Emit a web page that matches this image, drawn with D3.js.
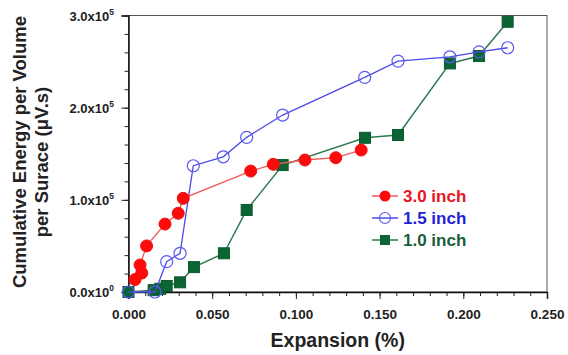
<html>
<script src='https://d3js.org/d3.v7.min.js'></script>
<style>
    body { margin: 0; background: #fff; }
    text { font-family: 'Liberation Sans', Arial, sans-serif; font-weight: bold; }
</style>

<body onload='init()'>
    <svg width=568 height=355></svg>
    <script>
        // data (expansion %, energy in uV.s)
        const x30 = [0.0039, 0.0079, 0.0069, 0.0108, 0.0218, 0.0297, 0.0327, 0.0730, 0.0865, 0.1054, 0.1238, 0.1390];
        const y30 = [13500, 20500, 29300, 50000, 73700, 85400, 101600, 131200, 138500, 143200, 145700, 154000];
        const x15 = [0.0000, 0.0158, 0.0228, 0.0308, 0.0387, 0.0566, 0.0706, 0.0921, 0.1411, 0.1610, 0.1920, 0.2094, 0.2265];
        const y15 = [0, 0, 32900, 42000, 137000, 146700, 167800, 192000, 232900, 250500, 255200, 260600, 265000];
        const x10 = [0.0000, 0.0150, 0.0190, 0.0228, 0.0308, 0.0391, 0.0570, 0.0706, 0.0921, 0.1413, 0.1610, 0.1920, 0.2094, 0.2265];
        const y10 = [0, 2000, 3500, 6500, 10500, 27000, 42000, 89000, 137700, 167300, 170300, 248000, 256000, 293200];
        const seriesNames = ['3.0 inch', '1.5 inch', '1.0 inch'];
        const xTicks = [0, 0.05, 0.1, 0.15, 0.2, 0.25];
        const yTicks = [0, 100000, 200000, 300000];
        const yTickLabels = ['0.0x10', '1.0x10', '2.0x10', '3.0x10'];
        const yTickExps = ['0', '5', '5', '5'];

        function init() {
            const svg = d3.select('svg');
            const left = 128.5, top = 15.5, right = 547, bottom = 292;
            const x = d3.scaleLinear().domain([0, 0.25]).range([left, right]);
            const y = d3.scaleLinear().domain([0, 300000]).range([bottom, top]);

            // frame
            svg.append('rect')
                .attr('x', left).attr('y', top)
                .attr('width', right - left).attr('height', bottom - top)
                .attr('fill', 'none').attr('stroke', '#555').attr('stroke-width', 1);

            // minor ticks
            svg.append('g')
                .attr('transform', 'translate(0,' + bottom + ')')
                .call(d3.axisBottom(x).tickValues(d3.range(0, 0.2501, 0.01)).tickSize(4).tickFormat(''))
                .call(g => g.select('.domain').remove());
            svg.append('g')
                .attr('transform', 'translate(' + left + ',0)')
                .call(d3.axisLeft(y).tickValues(d3.range(0, 300001, 20000)).tickSize(4).tickFormat(''))
                .call(g => g.select('.domain').remove());

            // major axes
            const xa = svg.append('g')
                .attr('transform', 'translate(0,' + bottom + ')')
                .call(d3.axisBottom(x).tickValues(xTicks).tickSize(7).tickPadding(10).tickFormat(d3.format('.3f')));
            xa.selectAll('text').attr('font-size', 13.5).attr('fill', '#222')
                .style('font-family', "'Liberation Sans', Arial, sans-serif").style('font-weight', 'bold');
            svg.append('g')
                .attr('transform', 'translate(' + left + ',0)')
                .call(d3.axisLeft(y).tickValues(yTicks).tickSize(7).tickPadding(4).tickFormat(''));
            svg.selectAll('.domain').attr('stroke-width', 1.5).attr('stroke', '#111');
            svg.selectAll('.tick line').attr('stroke', '#222');

            // y tick labels with superscript
            const yl = svg.append('g').selectAll('text').data(yTicks).enter().append('text')
                .attr('x', 114).attr('y', d => y(d) + 5)
                .attr('text-anchor', 'end').attr('font-size', 13).attr('fill', '#222');
            yl.append('tspan').text((d, i) => yTickLabels[i]);
            yl.append('tspan').attr('dy', -6).attr('font-size', 8.5).text((d, i) => yTickExps[i]);

            // axis titles
            svg.append('text').attr('x', (left + right) / 2).attr('y', 347)
                .attr('text-anchor', 'middle').attr('font-size', 19.5).attr('fill', '#222')
                .text('Expansion (%)');
            svg.append('text').attr('transform', 'translate(26,152) rotate(-90)')
                .attr('text-anchor', 'middle').attr('font-size', 18.5).attr('fill', '#222')
                .text('Cumulative Energy per Volume');
            svg.append('text').attr('transform', 'translate(48,162) rotate(-90)')
                .attr('text-anchor', 'middle').attr('font-size', 18.5).attr('fill', '#222')
                .text('per Surace (\u03bcV.s)');

            const line = d3.line().x(d => x(d[0])).y(d => y(d[1]));
            const d30 = x30.map((v, i) => [v, y30[i]]);
            const d15 = x15.map((v, i) => [v, y15[i]]);
            const d10 = x10.map((v, i) => [v, y10[i]]);

            // 1.0 inch - green squares
            svg.append('path').datum(d10).attr('d', line)
                .attr('fill', 'none').attr('stroke', '#2f7a52').attr('stroke-width', 1.5);
            svg.append('g').selectAll('rect').data(d10).enter().append('rect')
                .attr('x', d => x(d[0]) - 5.5).attr('y', d => y(d[1]) - 5.5)
                .attr('width', 11).attr('height', 11)
                .attr('fill', '#0b6433').attr('stroke', '#0b5a2e');

            // 1.5 inch - blue open circles
            svg.append('path').datum(d15).attr('d', line)
                .attr('fill', 'none').attr('stroke', '#4b4be8').attr('stroke-width', 1.3);
            svg.append('g').selectAll('circle').data(d15).enter().append('circle')
                .attr('cx', d => x(d[0])).attr('cy', d => y(d[1])).attr('r', 6)
                .attr('fill', 'none').attr('stroke', '#5a5af0').attr('stroke-width', 1.2);

            // 3.0 inch - red filled circles
            svg.append('path').datum(d30).attr('d', line)
                .attr('fill', 'none').attr('stroke', '#f05a5a').attr('stroke-width', 1.3);
            svg.append('g').selectAll('circle').data(d30).enter().append('circle')
                .attr('cx', d => x(d[0])).attr('cy', d => y(d[1])).attr('r', 6)
                .attr('fill', '#ff0a0a').attr('stroke', '#f01010');

            // legend
            const legColors = ['#e8141e', '#1f1fd8', '#17603a'];
            const lineColors = ['#f05a5a', '#4b4be8', '#2f7a52'];
            const leg = svg.append('g');
            seriesNames.forEach((name, i) => {
                const ly = 196 + i * 22;
                leg.append('line').attr('x1', 372).attr('x2', 398).attr('y1', ly).attr('y2', ly)
                    .attr('stroke', lineColors[i]).attr('stroke-width', 1.5);
                if (i === 0) leg.append('circle').attr('cx', 385).attr('cy', ly).attr('r', 5.5).attr('fill', '#ff0a0a');
                if (i === 1) leg.append('circle').attr('cx', 385).attr('cy', ly).attr('r', 5.5)
                    .attr('fill', 'none').attr('stroke', '#5a5af0').attr('stroke-width', 1.2);
                if (i === 2) leg.append('rect').attr('x', 380).attr('y', ly - 5).attr('width', 10).attr('height', 10).attr('fill', '#0b6433');
                leg.append('text').attr('x', 403).attr('y', ly + 6).attr('font-size', 17)
                    .attr('fill', legColors[i]).text(name);
            });
        }
    </script>
</body>

</html>
